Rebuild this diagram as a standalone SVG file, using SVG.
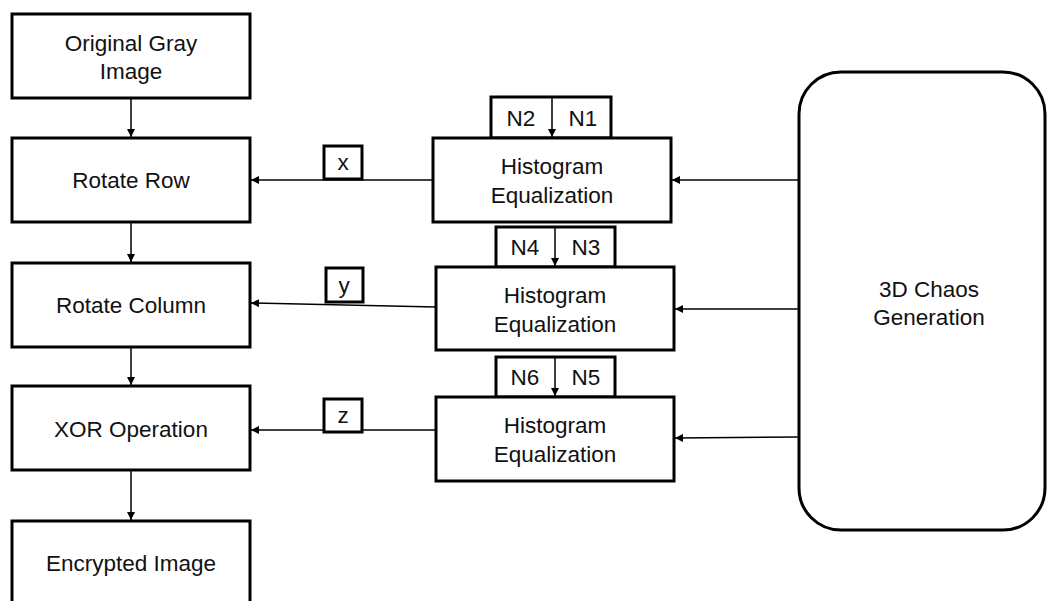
<svg xmlns="http://www.w3.org/2000/svg" width="1049" height="601" viewBox="0 0 1049 601">
<style>
.box{fill:#fff;stroke:#000;stroke-width:3}
.t{font-family:"Liberation Sans",Arial,sans-serif;font-size:22.5px;fill:#111;text-anchor:middle}
.ln{stroke:#000;stroke-width:1.5;fill:none}
</style>
<defs>
<marker id="ah" viewBox="0 0 10 10" refX="10" refY="5" markerWidth="8" markerHeight="8" markerUnits="userSpaceOnUse" orient="auto">
<path d="M0,0 L10,5 L0,10 z" fill="#000"/>
</marker>
</defs>
<rect width="1049" height="601" fill="#fff"/>
<g id="connectors">
<line class="ln" x1="131" y1="98" x2="131" y2="137" marker-end="url(#ah)"/>
<line class="ln" x1="131" y1="222" x2="131" y2="262" marker-end="url(#ah)"/>
<line class="ln" x1="131" y1="347" x2="131" y2="385" marker-end="url(#ah)"/>
<line class="ln" x1="131" y1="470" x2="131" y2="520" marker-end="url(#ah)"/>
<line class="ln" x1="433" y1="180" x2="251" y2="180" marker-end="url(#ah)"/>
<line class="ln" x1="436" y1="307" x2="251" y2="303" marker-end="url(#ah)"/>
<line class="ln" x1="436" y1="430" x2="251" y2="430" marker-end="url(#ah)"/>
<line class="ln" x1="799" y1="180" x2="672" y2="180" marker-end="url(#ah)"/>
<line class="ln" x1="799" y1="309" x2="675" y2="309" marker-end="url(#ah)"/>
<line class="ln" x1="799" y1="437" x2="675" y2="438" marker-end="url(#ah)"/>
</g>
<g id="original">
<rect class="box" x="12" y="14" width="238" height="84"/>
<text class="t" x="131" y="51">Original Gray</text>
<text class="t" x="131" y="79">Image</text>
</g>
<g id="rotrow">
<rect class="box" x="12" y="138" width="238" height="84"/>
<text class="t" x="131" y="188">Rotate Row</text>
</g>
<g id="rotcol">
<rect class="box" x="12" y="263" width="238" height="84"/>
<text class="t" x="131" y="313">Rotate Column</text>
</g>
<g id="xor">
<rect class="box" x="12" y="386" width="238" height="84"/>
<text class="t" x="131" y="437">XOR Operation</text>
</g>
<g id="encrypted">
<rect class="box" x="12" y="521" width="238" height="90"/>
<text class="t" x="131" y="571">Encrypted Image</text>
</g>
<g id="lx">
<rect class="box" x="324" y="146" width="38" height="33"/>
<text class="t" x="343" y="170">x</text>
</g>
<g id="ly">
<rect class="box" x="326" y="268" width="37" height="34"/>
<text class="t" x="344" y="293">y</text>
</g>
<g id="lz">
<rect class="box" x="324" y="399" width="38" height="33"/>
<text class="t" x="343" y="423">z</text>
</g>
<g id="n12">
<rect class="box" x="491" y="97" width="120" height="41"/>
<line class="ln" x1="552" y1="97" x2="552" y2="137" marker-end="url(#ah)"/>
<text class="t" x="521" y="126">N2</text>
<text class="t" x="583" y="126">N1</text>
</g>
<g id="hist1">
<rect class="box" x="433" y="138" width="238" height="84"/>
<text class="t" x="552" y="174">Histogram</text>
<text class="t" x="552" y="203">Equalization</text>
</g>
<g id="n34">
<rect class="box" x="496" y="227" width="119" height="40"/>
<line class="ln" x1="555" y1="227" x2="555" y2="266" marker-end="url(#ah)"/>
<text class="t" x="525" y="255">N4</text>
<text class="t" x="586" y="255">N3</text>
</g>
<g id="hist2">
<rect class="box" x="436" y="267" width="238" height="83"/>
<text class="t" x="555" y="303">Histogram</text>
<text class="t" x="555" y="332">Equalization</text>
</g>
<g id="n56">
<rect class="box" x="496" y="357" width="119" height="40"/>
<line class="ln" x1="555" y1="357" x2="555" y2="396" marker-end="url(#ah)"/>
<text class="t" x="525" y="385">N6</text>
<text class="t" x="586" y="385">N5</text>
</g>
<g id="hist3">
<rect class="box" x="436" y="397" width="238" height="84"/>
<text class="t" x="555" y="433">Histogram</text>
<text class="t" x="555" y="462">Equalization</text>
</g>
<g id="chaos">
<rect class="box" x="799" y="72" width="246" height="458" rx="42" ry="42"/>
<text class="t" x="929" y="297">3D Chaos</text>
<text class="t" x="929" y="325">Generation</text>
</g>
</svg>
